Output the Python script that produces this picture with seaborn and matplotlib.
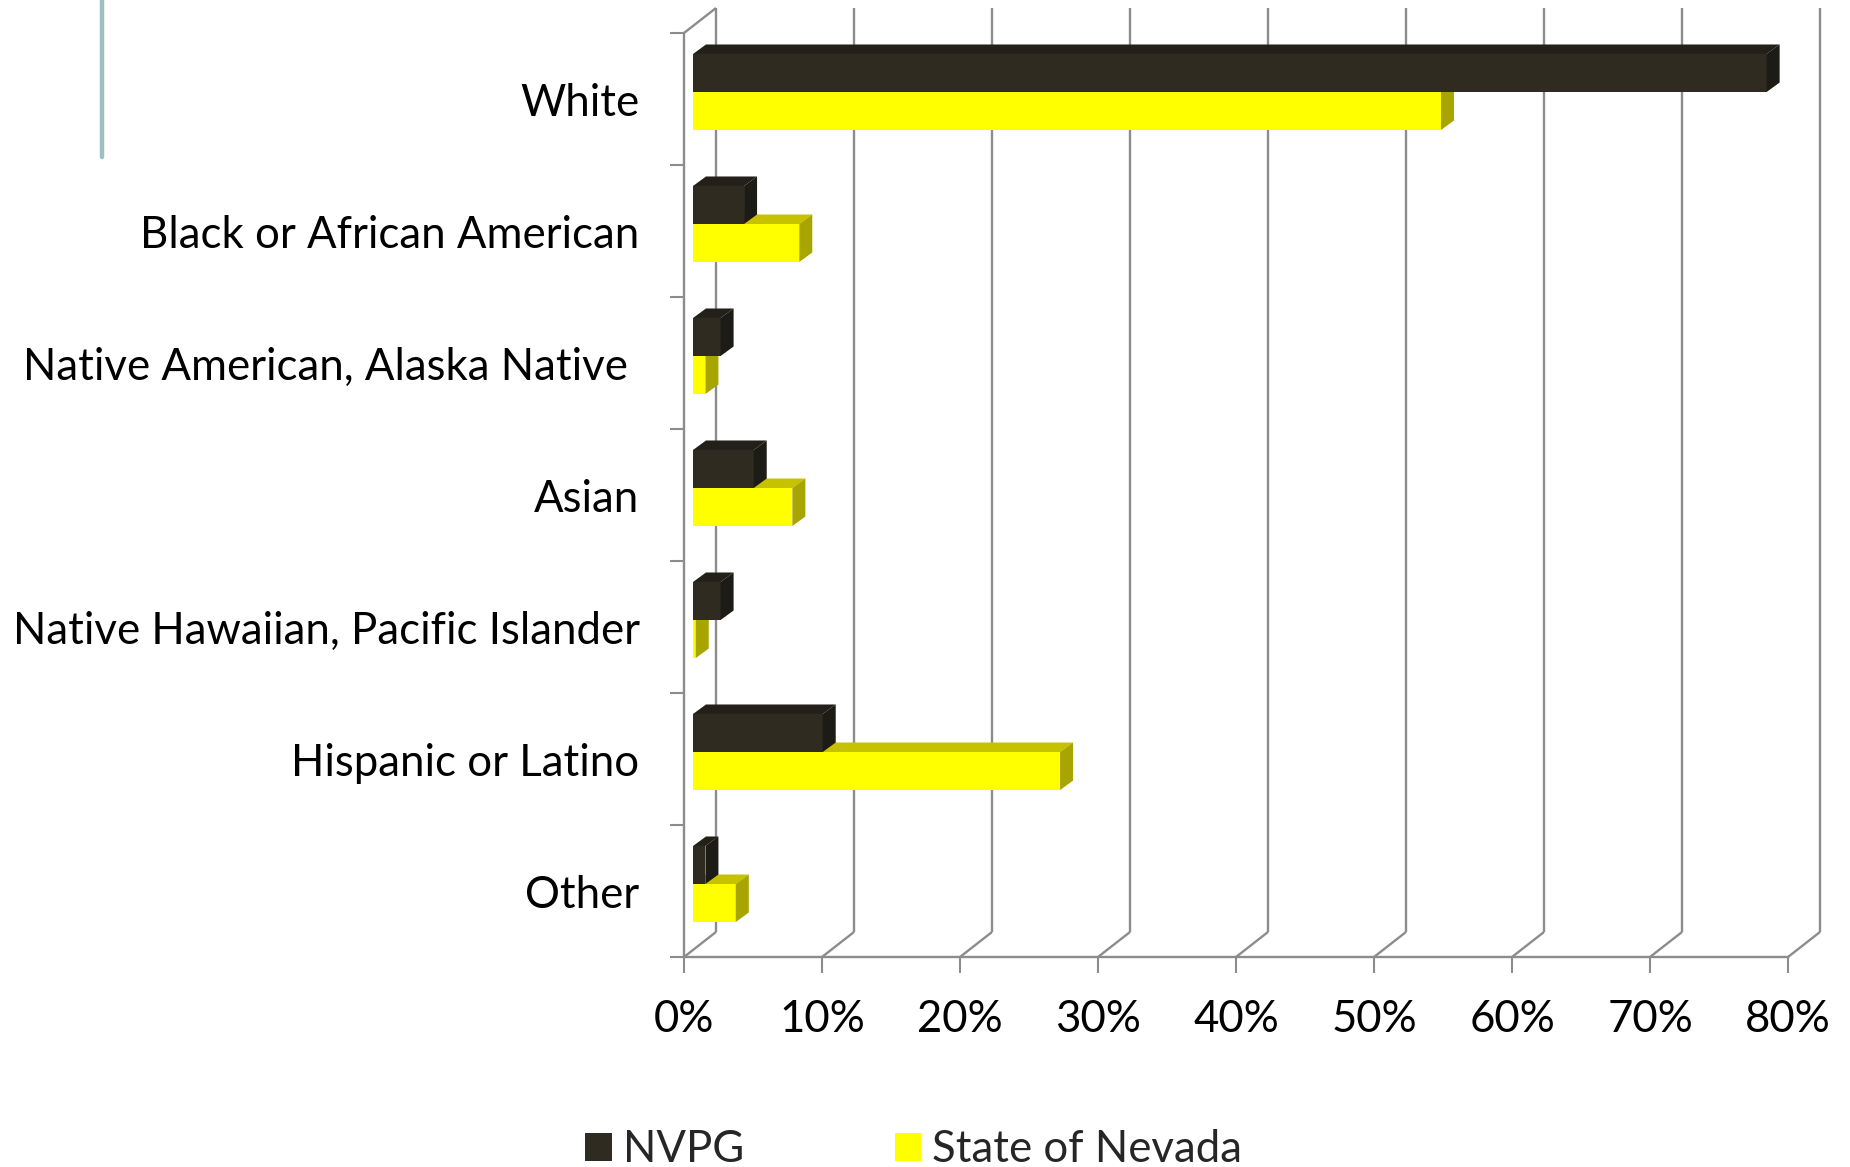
import matplotlib
matplotlib.use("Agg")
import matplotlib.pyplot as plt
from matplotlib.patches import Polygon, Patch
from matplotlib.lines import Line2D
import seaborn as sns
import pandas as pd

# ---- data -------------------------------------------------------------
categories = [
    "White",
    "Black or African American",
    "Native American, Alaska Native ",
    "Asian",
    "Native Hawaiian, Pacific Islander",
    "Hispanic or Latino",
    "Other",
]
series_names = ["NVPG", "State of Nevada"]
nvpg = [77.8, 3.7, 2.0, 4.4, 2.0, 9.4, 0.9]
nevada = [54.2, 7.7, 0.9, 7.2, 0.2, 26.6, 3.1]
x_ticks = [0, 10, 20, 30, 40, 50, 60, 70, 80]
x_tick_labels = ["0%", "10%", "20%", "30%", "40%", "50%", "60%", "70%", "80%"]

df = pd.DataFrame({
    "Group": categories * 2,
    "Share": nvpg + nevada,
    "Series": [series_names[0]] * len(categories) + [series_names[1]] * len(categories),
})

# ---- style ------------------------------------------------------------
sns.set_theme(style="white")
plt.rcParams["font.family"] = ["Lato", "DejaVu Sans"]

DARK = ["#2F2B21", "#23201A", "#1D1B15"]      # front, top, side
YELLOW = ["#FFFF00", "#C6C200", "#A8A400"]    # front, top, side
GRID = "#8C8C8C"
FONT_SIZE = 31.5

W, H = 1850, 1167
PX_X = 13.8     # pixels per percentage point
PX_Y = 132.0    # pixels per category band

# depth of the walls and of the bars, in data units
WALL_DX, WALL_DY = 32 / PX_X, 25 / PX_Y
BAR_OFF_DX, BAR_OFF_DY = 9 / PX_X, 7 / PX_Y
BAR_DX, BAR_DY = 13 / PX_X, 9.5 / PX_Y

fig = plt.figure(figsize=(W / 100, H / 100), dpi=100)
ax = fig.add_axes([684 / W, 1 - 957 / H, (1820 - 684) / W, (957 - 8) / H])

sns.barplot(
    data=df, y="Group", x="Share", hue="Series", orient="h",
    palette=[DARK[0], YELLOW[0]], saturation=1, width=0.576,
    dodge=True, legend=False, ax=ax, linewidth=0,
)

n_cat = len(categories)
y_front_top, y_front_bot = -0.5, n_cat - 0.5
ax.set_xlim(0, x_ticks[-1] + WALL_DX)
ax.set_ylim(y_front_bot, y_front_top - WALL_DY)

# ---- 3D faces for each bar -------------------------------------------
for patch in list(ax.patches):
    face = patch.get_facecolor()
    is_dark = sum(face[:3]) < 1.0
    cols = DARK if is_dark else YELLOW
    z = 3 if is_dark else 2
    x0 = patch.get_x() + BAR_OFF_DX
    y0 = patch.get_y() - BAR_OFF_DY
    w, h = patch.get_width(), patch.get_height()
    patch.set_x(x0)
    patch.set_y(y0)
    patch.set_zorder(z)
    patch.set_facecolor(cols[0])
    top = Polygon(
        [(x0, y0), (x0 + w, y0), (x0 + w + BAR_DX, y0 - BAR_DY), (x0 + BAR_DX, y0 - BAR_DY)],
        closed=True, facecolor=cols[1], edgecolor="none", zorder=z,
    )
    side = Polygon(
        [(x0 + w, y0), (x0 + w + BAR_DX, y0 - BAR_DY),
         (x0 + w + BAR_DX, y0 + h - BAR_DY), (x0 + w, y0 + h)],
        closed=True, facecolor=cols[2], edgecolor="none", zorder=z,
    )
    ax.add_patch(top)
    ax.add_patch(side)

# ---- walls: back gridlines, floor diagonals, left wall edge ----------
grid_kw = dict(color=GRID, lw=1.7, zorder=1, solid_capstyle="butt", clip_on=False)
for t in x_ticks:
    ax.plot([t + WALL_DX, t + WALL_DX], [y_front_bot - WALL_DY, y_front_top - WALL_DY], **grid_kw)
    ax.plot([t, t + WALL_DX], [y_front_bot, y_front_bot - WALL_DY], **grid_kw)
ax.plot([0, WALL_DX], [y_front_top, y_front_top - WALL_DY], **grid_kw)

for side_name in ["top", "right"]:
    ax.spines[side_name].set_visible(False)
for side_name in ["left", "bottom"]:
    ax.spines[side_name].set_color(GRID)
    ax.spines[side_name].set_linewidth(1.7)
    ax.spines[side_name].set_zorder(1)
ax.spines["left"].set_bounds(y_front_top, y_front_bot)
ax.spines["bottom"].set_bounds(0, x_ticks[-1])

# ---- ticks and labels -------------------------------------------------
ax.set_xticks(x_ticks)
ax.set_xticklabels(x_tick_labels)
ax.set_yticks(range(n_cat))
ax.set_yticklabels(categories)
ax.set_yticks([i - 0.5 for i in range(n_cat + 1)], minor=True)
ax.tick_params(axis="x", which="major", length=11.5, width=1.5, color=GRID,
               direction="out", pad=19, labelsize=FONT_SIZE, labelcolor="black", bottom=True)
ax.tick_params(axis="y", which="major", length=0, pad=32, labelsize=FONT_SIZE,
               labelcolor="black", left=True)
ax.tick_params(axis="y", which="minor", length=10, width=1.5, color=GRID, direction="out", left=True)
ax.set_xlabel("")
ax.set_ylabel("")
ax.grid(False)

# ---- legend -----------------------------------------------------------
handles = [Patch(facecolor=DARK[0], edgecolor="none"), Patch(facecolor=YELLOW[0], edgecolor="none")]
fig.legend(
    handles, series_names, loc="center left", bbox_to_anchor=(546 / W, 1 - 1150 / H),
    ncol=2, frameon=False, fontsize=FONT_SIZE, handlelength=0.6, handleheight=0.62,
    handletextpad=0.25, columnspacing=3.45,
)

# accent rule at the top left
fig.add_artist(Line2D([102 / W, 102 / W], [1, 1 - 157 / H], color="#9DBFBF", lw=3.2))

fig.savefig("out.png", dpi=100, facecolor="white")
